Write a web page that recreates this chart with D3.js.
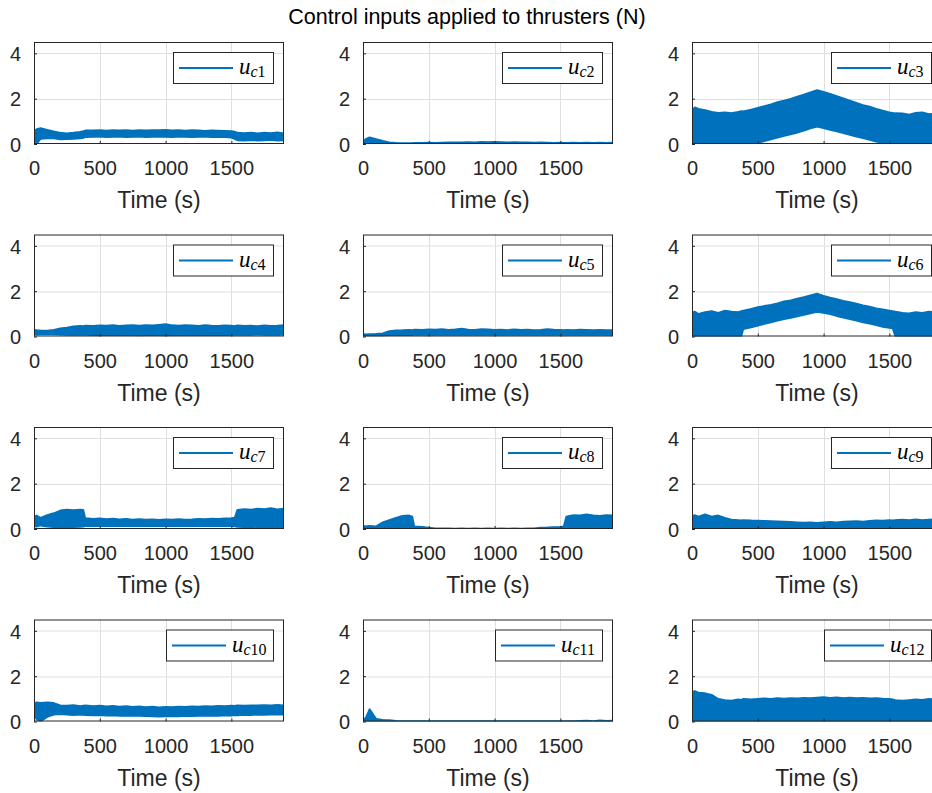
<!DOCTYPE html>
<html><head><meta charset="utf-8">
<script src="https://cdn.jsdelivr.net/npm/d3@7"></script>
<style>body{margin:0;background:#fff}svg{display:block}</style>
</head><body>
<svg id="chart" width="932" height="793"></svg>
<script>
const TITLE = "Control inputs applied to thrusters (N)";
const XLABEL = "Time (s)";
const X_TICKS = [0, 500, 1000, 1500];
const Y_TICKS = [0, 2, 4];
const X_DOMAIN = [0, 1900];
const Y_DOMAIN = [0, 4.5];
const CHANNELS = ["1","2","3","4","5","6","7","8","9","10","11","12"];

const TIME = [0,20,50,100,150,200,250,300,350,375,390,450,500,550,600,650,700,750,800,850,900,950,1000,1050,1100,1150,1200,1250,1300,1350,1400,1450,1500,1525,1545,1600,1650,1700,1750,1800,1850,1900];

const hi1 = [0.58,0.66,0.70,0.63,0.56, 0.50,0.47,0.50,0.54,0.57, 0.60,0.60,0.62,0.59,0.61, 0.60,0.62,0.59,0.61,0.60, 0.62,0.61,0.63,0.60,0.62, 0.59,0.61,0.60,0.58,0.60, 0.59,0.58,0.57,0.55,0.50, 0.48,0.51,0.47,0.50,0.48, 0.52,0.47];
const lo1 = [0.28,0.00,0.22,0.25,0.24, 0.20,0.21,0.22,0.24,0.27, 0.30,0.31,0.32,0.30,0.31, 0.32,0.30,0.31,0.32,0.30, 0.31,0.32,0.31,0.30,0.32, 0.31,0.30,0.31,0.32,0.30, 0.31,0.30,0.28,0.22,0.16, 0.15,0.17,0.15,0.16,0.18, 0.15,0.16];

const hi2 = [0.12,0.22,0.30,0.22,0.14, 0.08,0.05,0.04,0.04,0.04, 0.05,0.05,0.06,0.05,0.06, 0.07,0.08,0.07,0.09,0.08, 0.10,0.09,0.10,0.09,0.08, 0.09,0.08,0.07,0.06,0.07, 0.06,0.05,0.06,0.05,0.05, 0.06,0.05,0.06,0.05,0.06, 0.05,0.06];
const lo2 = [0.03,0.04,0.05,0.03,0.02, 0.01,0.01,0.01,0.01,0.01, 0.01,0.01,0.01,0.01,0.01, 0.01,0.01,0.01,0.01,0.01, 0.01,0.01,0.01,0.01,0.01, 0.01,0.01,0.01,0.01,0.01, 0.01,0.01,0.01,0.01,0.01, 0.01,0.01,0.01,0.01,0.01, 0.01,0.01];

const hi3 = [1.45,1.62,1.55,1.50,1.42, 1.38,1.40,1.37,1.42,1.45, 1.44,1.52,1.60,1.68,1.75, 1.85,1.92,2.00,2.10,2.18, 2.28,2.38,2.30,2.22,2.12, 2.02,1.92,1.82,1.72,1.65, 1.55,1.48,1.40,1.38,1.36, 1.35,1.30,1.38,1.40,1.32, 1.35,1.30];
const lo3 = [0,0,0,0,0, 0,0,0,0,0, 0,0,0.05,0.12,0.20, 0.28,0.35,0.42,0.50,0.58, 0.68,0.76,0.70,0.62,0.55, 0.48,0.40,0.32,0.25,0.18, 0.10,0.05,0,0,0, 0,0,0,0,0, 0,0];

const hi4 = [0.30,0.28,0.27,0.26,0.30, 0.36,0.40,0.45,0.47,0.46, 0.48,0.47,0.49,0.48,0.50, 0.47,0.49,0.51,0.48,0.50, 0.49,0.52,0.55,0.50,0.48, 0.51,0.49,0.47,0.50,0.48, 0.47,0.49,0.48,0.46,0.49, 0.47,0.48,0.46,0.49,0.47, 0.48,0.50];
const lo4 = [0.10,0.08,0.09,0.10,0.09, 0.08,0.07,0.08,0.07,0.08, 0.07,0.06,0.07,0.06,0.07, 0.06,0.07,0.06,0.05,0.06, 0.07,0.06,0.05,0.06,0.07, 0.06,0.07,0.06,0.07,0.06, 0.07,0.06,0.07,0.08,0.07, 0.08,0.07,0.08,0.07,0.08, 0.07,0.08];

const hi5 = [0.12,0.10,0.11,0.12,0.14, 0.24,0.27,0.28,0.30,0.29, 0.31,0.30,0.32,0.31,0.33, 0.30,0.32,0.35,0.31,0.30, 0.33,0.32,0.30,0.31,0.29, 0.32,0.30,0.31,0.29,0.30, 0.33,0.31,0.30,0.28,0.30, 0.29,0.31,0.30,0.28,0.30, 0.29,0.28];
const lo5 = [0.04,0.03,0.04,0.03,0.04, 0.06,0.07,0.06,0.07,0.06, 0.07,0.08,0.07,0.08,0.07, 0.08,0.07,0.08,0.07,0.08, 0.07,0.08,0.07,0.08,0.07, 0.08,0.07,0.08,0.07,0.08, 0.07,0.08,0.07,0.08,0.07, 0.08,0.07,0.08,0.07,0.08, 0.07,0.06];

const hi6 = [1.05,1.10,1.00,1.08,1.12, 1.05,1.15,1.10,1.08,1.12, 1.15,1.22,1.30,1.35,1.40, 1.47,1.55,1.60,1.68,1.74, 1.82,1.90,1.80,1.72,1.65, 1.58,1.52,1.45,1.38,1.32, 1.25,1.20,1.15,1.12,1.10, 1.05,1.02,1.08,1.05,1.10, 1.08,1.12];
const lo6 = [0,0,0,0,0, 0,0,0,0,0, 0.32,0.40,0.48,0.55,0.62, 0.70,0.76,0.82,0.88,0.95, 1.02,1.08,1.04,0.98,0.90, 0.83,0.76,0.70,0.62,0.56, 0.50,0.42,0.38,0.35,0, 0,0,0,0,0, 0,0];

const hi7 = [0.55,0.60,0.50,0.62,0.70, 0.82,0.86,0.84,0.86,0.85, 0.48,0.45,0.47,0.44,0.46, 0.43,0.45,0.42,0.44,0.42, 0.43,0.41,0.43,0.42,0.44, 0.42,0.43,0.45,0.44,0.46, 0.45,0.47,0.48,0.50,0.85, 0.88,0.86,0.90,0.88,0.92, 0.87,0.90];
const lo7 = [0.12,0.10,0.15,0.10,0.08, 0.08,0.07,0.08,0.09,0.10, 0.12,0.13,0.12,0.13,0.12, 0.13,0.12,0.13,0.12,0.13, 0.12,0.13,0.12,0.13,0.12, 0.13,0.12,0.13,0.12,0.13, 0.12,0.13,0.12,0.11,0.09, 0.08,0.09,0.08,0.09,0.08, 0.09,0.08];

const hi8 = [0.15,0.12,0.14,0.12,0.30, 0.40,0.50,0.58,0.60,0.55, 0.12,0.10,0.06,0.03,0.03, 0.03,0.02,0.03,0.02,0.03, 0.02,0.03,0.02,0.03,0.02, 0.03,0.02,0.03,0.03,0.06, 0.07,0.09,0.10,0.12,0.55, 0.62,0.60,0.65,0.60,0.58, 0.62,0.60];
const lo8 = [0.04,0.03,0.02,0.02,0.03, 0.03,0.02,0.03,0.02,0.03, 0.02,0.01,0.01,0,0, 0,0,0,0,0, 0,0,0,0,0, 0,0,0,0,0.01, 0.01,0.01,0.02,0.02,0.02, 0.02,0.03,0.02,0.03,0.02, 0.03,0.02];

const hi9 = [0.55,0.62,0.55,0.65,0.55, 0.60,0.50,0.42,0.40,0.38, 0.40,0.38,0.37,0.36,0.35, 0.34,0.33,0.32,0.30,0.28, 0.30,0.27,0.30,0.32,0.30, 0.33,0.34,0.35,0.33,0.36, 0.38,0.37,0.39,0.38,0.40, 0.42,0.40,0.43,0.40,0.42, 0.44,0.42];
const lo9 = [0.04,0.03,0.04,0.03,0.04, 0.03,0.04,0.03,0.04,0.03, 0.04,0.03,0.04,0.03,0.04, 0.03,0.04,0.03,0.04,0.03, 0.04,0.03,0.04,0.03,0.04, 0.03,0.04,0.03,0.04,0.03, 0.04,0.03,0.04,0.03,0.04, 0.03,0.04,0.03,0.04,0.03, 0.04,0.03];

const hi10 = [0.80,0.85,0.82,0.85,0.82, 0.72,0.70,0.73,0.68,0.70, 0.71,0.68,0.70,0.67,0.69, 0.66,0.68,0.65,0.67,0.64, 0.66,0.63,0.65,0.64,0.66, 0.65,0.67,0.66,0.68,0.67, 0.69,0.68,0.70,0.69,0.71, 0.70,0.72,0.71,0.73,0.72, 0.74,0.72];
const lo10 = [0.25,0.10,0.00,0.20,0.30, 0.32,0.30,0.28,0.30,0.29, 0.28,0.27,0.28,0.26,0.27, 0.25,0.26,0.24,0.25,0.23, 0.22,0.21,0.22,0.23,0.22, 0.24,0.23,0.25,0.24,0.26, 0.25,0.27,0.26,0.28,0.27, 0.29,0.28,0.30,0.29,0.30, 0.31,0.30];

const hi11 = [0.10,0.15,0.55,0.12,0.08, 0.06,0.03,0.02,0.02,0.02, 0.02,0.02,0.02,0.02,0.02, 0.02,0.02,0.02,0.02,0.02, 0.02,0.02,0.02,0.02,0.02, 0.02,0.02,0.02,0.02,0.02, 0.02,0.02,0.02,0.02,0.02, 0.02,0.03,0.04,0.02,0.05, 0.03,0.04];
const lo11 = [0,0,0,0,0, 0,0,0,0,0, 0,0,0,0,0, 0,0,0,0,0, 0,0,0,0,0, 0,0,0,0,0, 0,0,0,0,0, 0,0,0,0,0, 0,0];

const hi12 = [1.30,1.35,1.28,1.25,1.18, 1.00,0.95,0.92,0.98,0.96, 1.00,0.98,1.00,1.02,1.00, 1.03,1.01,1.04,1.02,1.05, 1.03,1.06,1.08,1.05,1.07, 1.04,1.06,1.03,1.05,1.02, 1.04,1.01,1.00,0.98,0.95, 0.92,0.95,0.98,0.96,1.00, 0.97,0.95];
const lo12 = [0,0,0,0,0, 0,0,0,0,0, 0,0,0,0,0, 0,0,0,0,0, 0,0,0,0,0, 0,0,0,0,0, 0,0,0,0,0, 0,0,0,0,0, 0,0];

const HI = [hi1,hi2,hi3,hi4,hi5,hi6,hi7,hi8,hi9,hi10,hi11,hi12];
const LO = [lo1,lo2,lo3,lo4,lo5,lo6,lo7,lo8,lo9,lo10,lo11,lo12];

// ---- layout ----
const COL_LEFT = [34, 363, 692];
const ROW_TOP = [42, 234.5, 427, 619.5];
const PW = 250, PH = 102;
const BLUE = "#0072BD", INK = "#262626", GRID = "#dfdfdf";
const SANS = "'Liberation Sans', Arial, Helvetica, sans-serif";
const SERIF = "'Liberation Serif', 'Times New Roman', serif";

const svg = d3.select("#chart");
svg.append("rect").attr("width", 932).attr("height", 793).attr("fill", "#fff");

svg.append("text").attr("x", 467).attr("y", 24).attr("text-anchor", "middle")
  .attr("font-family", SANS).attr("font-size", 21.5).attr("fill", "#000").text(TITLE);

const x = d3.scaleLinear().domain(X_DOMAIN).range([0, PW]);
const y = d3.scaleLinear().domain(Y_DOMAIN).range([PH, 0]);
const fmt = d3.format("d");

CHANNELS.forEach((ch, i) => {
  const r = Math.floor(i / 3), c = i % 3;
  const g = svg.append("g").attr("transform", `translate(${COL_LEFT[c]},${ROW_TOP[r]})`);
  const data = TIME.map((t, k) => ({t, lo: LO[i][k], hi: HI[i][k]}));
  if (HI[i].length !== TIME.length || LO[i].length !== TIME.length) console.error("length mismatch", ch);

  g.append("rect").attr("width", PW).attr("height", PH).attr("fill", "#fff");
  g.append("g").selectAll("line").data(X_TICKS.filter(v => v > 0)).join("line")
    .attr("x1", d => Math.round(x(d)) + 0.5).attr("x2", d => Math.round(x(d)) + 0.5).attr("y1", 0).attr("y2", PH)
    .attr("stroke", GRID).attr("stroke-width", 1);
  g.append("g").selectAll("line").data(Y_TICKS.filter(v => v > 0)).join("line")
    .attr("y1", d => Math.round(y(d)) + 0.5).attr("y2", d => Math.round(y(d)) + 0.5).attr("x1", 0).attr("x2", PW)
    .attr("stroke", GRID).attr("stroke-width", 1);

  const clipId = "clip" + i;
  g.append("clipPath").attr("id", clipId).append("rect").attr("width", PW).attr("height", PH);
  const area = d3.area().x(d => x(d.t)).y0(d => y(d.lo)).y1(d => y(d.hi));
  g.append("path").datum(data).attr("clip-path", `url(#${clipId})`)
    .attr("d", area).attr("fill", BLUE).attr("stroke", BLUE).attr("stroke-width", 1.6)
    .attr("stroke-linejoin", "round");

  const ax = g.append("g").attr("transform", `translate(0,${PH})`)
    .call(d3.axisBottom(x).tickValues(X_TICKS).tickFormat(fmt).tickSizeInner(-3).tickSizeOuter(0).tickPadding(17));
  const ay = g.append("g")
    .call(d3.axisLeft(y).tickValues(Y_TICKS).tickFormat(fmt).tickSizeInner(-3).tickSizeOuter(0).tickPadding(13));
  [ax, ay].forEach(a => {
    a.select(".domain").remove();
    a.selectAll(".tick line").attr("stroke", INK);
    a.selectAll(".tick text").attr("font-family", SANS).attr("font-size", 20).attr("fill", INK);
  });
  ax.selectAll(".tick text").attr("dy", "0.71em");
  ay.selectAll(".tick text").attr("dy", "0.36em");
  g.append("rect").attr("x", 0.5).attr("y", 0.5).attr("width", PW - 1).attr("height", PH - 1)
    .attr("fill", "none").attr("stroke", INK).attr("stroke-width", 1);

  g.append("text").attr("x", PW / 2).attr("y", PH + 64).attr("text-anchor", "middle")
    .attr("font-family", SANS).attr("font-size", 23).attr("fill", INK).text(XLABEL);

  const lw = ch.length > 1 ? 107 : 100;
  const lx = PW - 11 - lw, ly = 10, lh = 31;
  const lg = g.append("g").attr("transform", `translate(${lx},${ly})`);
  lg.append("rect").attr("x", 0.5).attr("y", 0.5).attr("width", lw).attr("height", lh)
    .attr("fill", "#fff").attr("stroke", INK).attr("stroke-width", 1);
  lg.append("line").attr("x1", 6).attr("x2", 60).attr("y1", 16).attr("y2", 16)
    .attr("stroke", BLUE).attr("stroke-width", 2);
  const tx = lg.append("text").attr("x", 66).attr("y", 22).attr("font-family", SERIF).attr("fill", "#000");
  tx.append("tspan").attr("font-style", "italic").attr("font-size", 23).text("u");
  tx.append("tspan").attr("font-style", "italic").attr("font-size", 16).attr("dy", 3).text("c");
  tx.append("tspan").attr("font-size", 16).text(ch);
});
</script>
</body></html>
